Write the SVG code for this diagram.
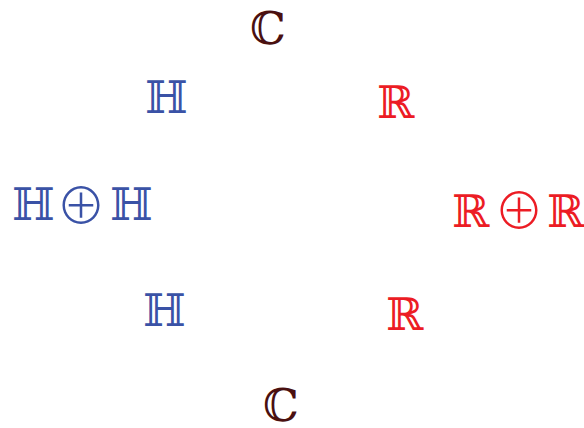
<svg xmlns="http://www.w3.org/2000/svg" width="584" height="428" viewBox="0 0 584 428">
<style>
text{font-family:"DejaVu Serif",serif;font-size:45px}
.o{font-family:"Noto Sans CJK SC",sans-serif;font-size:50px;font-weight:300}
.c{fill:#4a1010}
.h{fill:#3a52a6}
.r{fill:#ec1c24}
</style>
<rect width="584" height="428" fill="#fff"/>
<g id="c1"><text class="c" x="250" y="44">ℂ</text></g>
<g id="h1"><text class="h" x="145" y="113">ℍ</text></g>
<g id="r1"><text class="r" x="377" y="118">ℝ</text></g>
<g id="hh"><text class="h" y="220"><tspan x="12">ℍ</tspan><tspan class="o" x="56" y="224">⊕</tspan><tspan x="110" y="220">ℍ</tspan></text></g>
<g id="rr"><text class="r" y="227"><tspan x="452">ℝ</tspan><tspan class="o" x="494" y="229">⊕</tspan><tspan x="547" y="227">ℝ</tspan></text></g>
<g id="h2"><text class="h" x="143" y="326">ℍ</text></g>
<g id="r2"><text class="r" x="386" y="330">ℝ</text></g>
<g id="c2"><text class="c" x="263" y="421">ℂ</text></g>
<g id="connectors"></g>
</svg>
